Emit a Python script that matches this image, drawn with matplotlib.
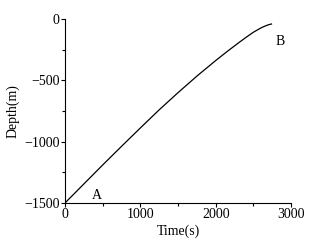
import numpy as np
import matplotlib.pyplot as plt
from matplotlib.ticker import MultipleLocator

plt.rcParams['font.family'] = ['Liberation Serif', 'DejaVu Serif']
plt.rcParams['font.size'] = 10

# values
time_s = [0, 250, 500, 750, 1000, 1250, 1500, 1750, 2000, 2150, 2300, 2400, 2500,
          2600, 2650, 2700, 2740]
depth_m = [-1500, -1345, -1190, -1038, -888, -740, -600, -465, -338, -265, -195, -150,
           -107, -72, -58, -46, -40]

fig = plt.figure(figsize=(3.13, 2.48), dpi=100)
ax = fig.add_axes([0.208, 0.182, 0.722, 0.741])

ax.plot(time_s, depth_m, color="black", linewidth=0.9)

ax.set_xlim(0, 3000)
ax.set_ylim(-1500, 0)
ax.xaxis.set_major_locator(MultipleLocator(1000))
ax.xaxis.set_minor_locator(MultipleLocator(500))
ax.yaxis.set_major_locator(MultipleLocator(500))
ax.yaxis.set_minor_locator(MultipleLocator(250))
ax.tick_params(which="major", direction="out", length=3, width=0.8, pad=1)
ax.tick_params(which="minor", direction="out", length=2, width=0.8)

ax.spines["top"].set_visible(False)
ax.spines["right"].set_visible(False)

ax.set_xlabel("Time(s)", labelpad=2)
ax.set_ylabel("Depth(m)", labelpad=3)

ax.text(360, -1470, "A", fontsize=10)
ax.text(2800, -215, "B", fontsize=10)

fig.savefig("out.png", dpi=100)
